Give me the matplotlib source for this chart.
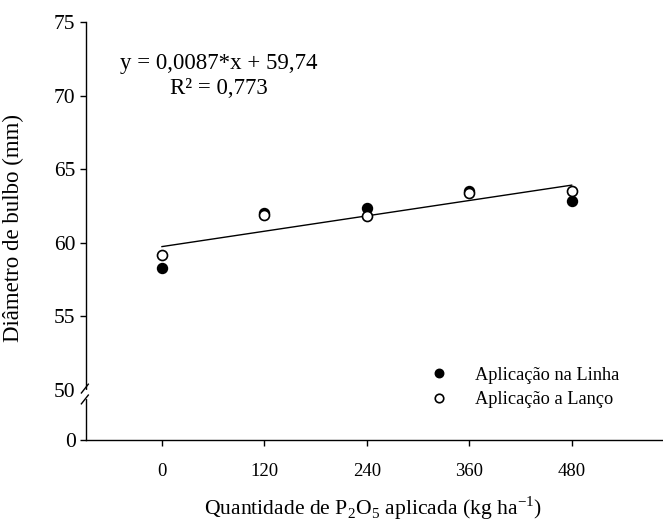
import numpy as np
import matplotlib
matplotlib.use("Agg")
import matplotlib.pyplot as plt

plt.rcParams['font.family'] = ['Liberation Serif', 'DejaVu Serif']
plt.rcParams['mathtext.fontset'] = 'custom'
plt.rcParams['mathtext.rm'] = 'Liberation Serif'

# dados
doses = [0, 120, 240, 360, 480]
linha = [58.32, 62.0, 62.37, 63.5, 62.82]
lanco = [59.18, 61.9, 61.82, 63.36, 63.55]
coef_a = 0.0087
coef_b = 59.74
yticks = [0, 50, 55, 60, 65, 70, 75]

# escala com quebra entre 0 e 50
k = 0.068
def fwd(y):
    y = np.asarray(y, dtype=float)
    return np.where(y >= 50, y, 50 - (50 - y) * k)
def inv(s):
    s = np.asarray(s, dtype=float)
    return np.where(s >= 50, s, 50 - (50 - s) / k)

fig = plt.figure(figsize=(6.63, 5.21), dpi=100)
ax = fig.add_axes([86/663, 1-440/521, 1-86/663, (440-22)/521])
ax.set_yscale('function', functions=(fwd, inv))

xr = np.array([0, 480])
ax.plot(xr, coef_a*xr + coef_b, color='black', lw=1.0, zorder=2)
ax.plot(doses, linha, 'o', ms=7.2, mfc='black', mec='black', mew=1, label='Aplicação na Linha', zorder=3)
ax.plot(doses, lanco, 'o', ms=7.2, mfc='white', mec='black', mew=1.2, label='Aplicação a Lanço', zorder=4)

ax.set_xlim(-89, 587)
ax.set_ylim(0, 75)
ax.set_xticks(doses)
ax.set_yticks(yticks)
ax.tick_params(direction='out', length=4.5, width=1, pad=12)
ax.tick_params(axis='x', labelsize=13.5)
ax.tick_params(axis='y', pad=3, labelsize=15.5)
ax.yaxis.get_major_ticks()[1].tick1line.set_visible(False)
for s in ['top', 'right']:
    ax.spines[s].set_visible(False)
for s in ['left', 'bottom']:
    ax.spines[s].set_linewidth(1)

# marcas de quebra no eixo y
ax.plot([-0.0, -0.0], [0.104, 0.116], transform=ax.transAxes, color='white', lw=3, clip_on=False, zorder=5)
for yc in [0.123, 0.097]:
    ax.plot([-0.008, 0.004], [yc-0.0105, yc+0.0105], transform=ax.transAxes,
            color='black', lw=1, clip_on=False, zorder=6)

fig.text(219/663, 1-63/521, 'y = 0,0087*x + 59,74', ha='center', va='center', fontsize=16.5)
fig.text(219/663, 1-88/521, 'R² = 0,773', ha='center', va='center', fontsize=16.5)

ax.set_ylabel('Diâmetro de bulbo (mm)', fontsize=16.5)
ax.yaxis.set_label_coords(24/663, 1-228/521, transform=fig.transFigure)
ax.set_xlabel('Quantidade de P$_2$O$_5$ aplicada (kg ha$^{\\mathregular{-1}}$)', fontsize=15.6)
ax.xaxis.set_label_coords(373/663, 1-494/521, transform=fig.transFigure)

ax.legend(loc='center left', bbox_to_anchor=(430/663, 1-387.5/521), bbox_transform=fig.transFigure,
          frameon=False, fontsize=13.2, numpoints=1, handlelength=1, handletextpad=1.45,
          borderpad=0, borderaxespad=0, labelspacing=0.4, markerscale=0.85)

fig.savefig('out.png', dpi=100)
